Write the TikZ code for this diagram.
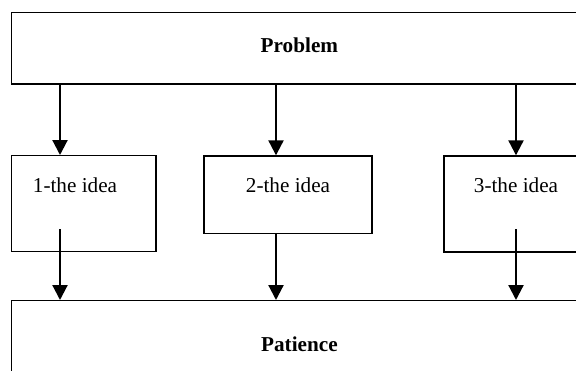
\documentclass[tikz,border=0pt]{standalone}
\usepackage{fontspec}
\setmainfont{Liberation Serif}
\usetikzlibrary{arrows.meta}
\tikzset{
  box/.style={draw, line width=1.4pt, inner sep=0pt},
  arr/.style={-{Triangle[length=15pt,width=15pt]}, line width=2.2pt},
  txt/.style={font=\fontsize{21.2}{25}\selectfont},
}
\begin{document}
\begin{tikzpicture}[x=1pt,y=-1pt]
  \useasboundingbox (0,0) rectangle (576,370);
  \clip (0,0) rectangle (576,370);
  \node[box, txt, text depth=6.8pt, minimum width=575.3pt, minimum height=71.7pt] (prob) at (299.4,48.2) {\bfseries Problem};
  \node[box, minimum width=144.3pt, minimum height=96pt] (i1) at (83.9,203.7) {};
  \node[box, minimum width=168pt, minimum height=77.3pt] (i2) at (288,194.65) {};
  \node[box, minimum width=144pt, minimum height=96pt] (i3) at (516,204) {};
  \node[txt] (t1) at (75,185) {1-the idea};
  \node[txt] (t2) at (288,185) {2-the idea};
  \node[txt] (t3) at (516,185) {3-the idea};
  \node[box, txt, minimum width=575.3pt, minimum height=86.6pt] (pat) at (299.4,344) {\bfseries Patience};
  \coordinate (c1) at (60,229);
  \coordinate (c2) at (276,229);
  \coordinate (c3) at (516,229);
  \draw[arr] (prob.south -| c1) -- (i1.north -| c1);
  \draw[arr] (prob.south -| c2) -- (i2.north -| c2);
  \draw[arr] (prob.south -| c3) -- (i3.north -| c3);
  \draw[arr] (c1) -- (pat.north -| c1);
  \draw[arr] (i2.south -| c2) -- (pat.north -| c2);
  \draw[arr] (c3) -- (pat.north -| c3);
\end{tikzpicture}
\end{document}
